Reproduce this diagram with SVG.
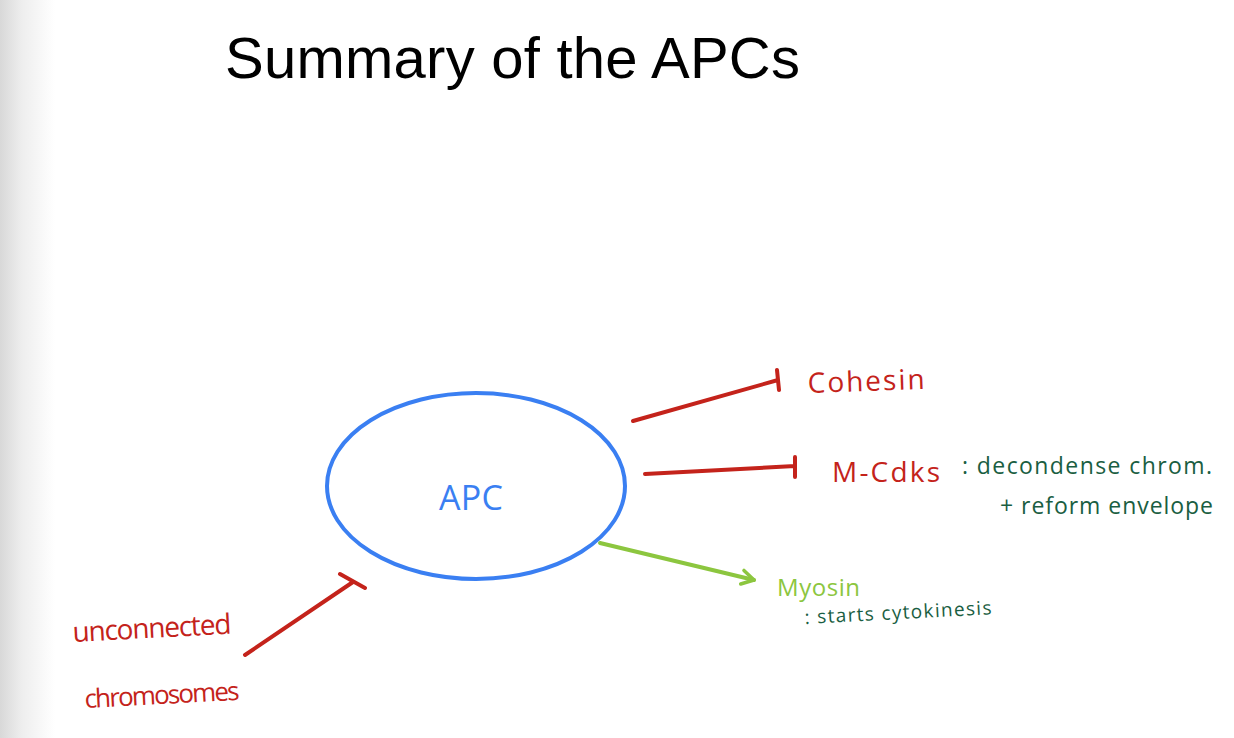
<svg xmlns="http://www.w3.org/2000/svg" width="1234" height="738" viewBox="0 0 1234 738">
<defs>
<linearGradient id="edge" x1="0" y1="0" x2="1" y2="0">
<stop offset="0" stop-color="#d8d8d8"/>
<stop offset="0.4" stop-color="#eeeeee"/>
<stop offset="1" stop-color="#ffffff"/>
</linearGradient>
<marker id="open" viewBox="0 0 20 20" refX="16" refY="10" markerWidth="20" markerHeight="20" markerUnits="userSpaceOnUse" orient="auto">
<path d="M4 3 L16 10 L4 17" fill="none" stroke="#8cc63f" stroke-width="3.5" stroke-linecap="round" stroke-linejoin="round"/>
</marker>
</defs>
<style>
.title{font-family:"Liberation Sans",Arial,sans-serif;font-size:58px;fill:#000}
.hand{font-family:"Open Sans","DejaVu Sans",sans-serif;font-weight:400}
.red{fill:#c4231b}
.dg{fill:#1a5e42}
.lg{fill:#8cc63f}
.inh{stroke:#c4231b;stroke-width:4;stroke-linecap:round;fill:none}
.act{stroke:#8cc63f;stroke-width:4;stroke-linecap:round;fill:none}
</style>
<rect width="1234" height="738" fill="#ffffff"/>
<rect width="55" height="738" fill="url(#edge)"/>
<text class="title" x="225" y="78" textLength="575">Summary of the APCs</text>

<g id="apc">
<ellipse cx="476" cy="486" rx="149" ry="93" fill="none" stroke="#3a7ff2" stroke-width="4"/>
<text class="hand" x="439" y="510" font-size="34" fill="#3a7ff2" textLength="64" lengthAdjust="spacing">APC</text>
</g>

<g id="connectors">
<path class="inh" d="M633 421 L778 380 M777 370 L779 390"/>
<path class="inh" d="M645 474 L795 466 M795 457 L795 477"/>
<path class="act" d="M600 543 L754 580" marker-end="url(#open)"/>
<path class="inh" d="M245 655 L353 582 M340 574 L365 588"/>
</g>

<g id="cohesin">
<text class="hand red" x="808" y="393" font-size="28" textLength="117" transform="rotate(-2 808 393)">Cohesin</text>
</g>
<g id="mcdks">
<text class="hand red" x="832" y="482" font-size="28" textLength="108">M-Cdks</text>
<text class="hand dg" x="962" y="474" font-size="23" textLength="250">: decondense chrom.</text>
<text class="hand dg" x="1000" y="514" font-size="23" textLength="213">+ reform envelope</text>
</g>
<g id="myosin">
<text class="hand lg" x="777" y="596" font-size="24" textLength="83">Myosin</text>
<text class="hand dg" x="805" y="624" font-size="19" textLength="187" transform="rotate(-3 805 624)">: starts cytokinesis</text>
</g>
<g id="unconnected">
<text class="hand red" x="73" y="642" font-size="28" textLength="159" transform="rotate(-3 73 642)">unconnected</text>
<text class="hand red" x="85" y="708" font-size="26" textLength="155" transform="rotate(-3 85 708)">chromosomes</text>
</g>
</svg>
